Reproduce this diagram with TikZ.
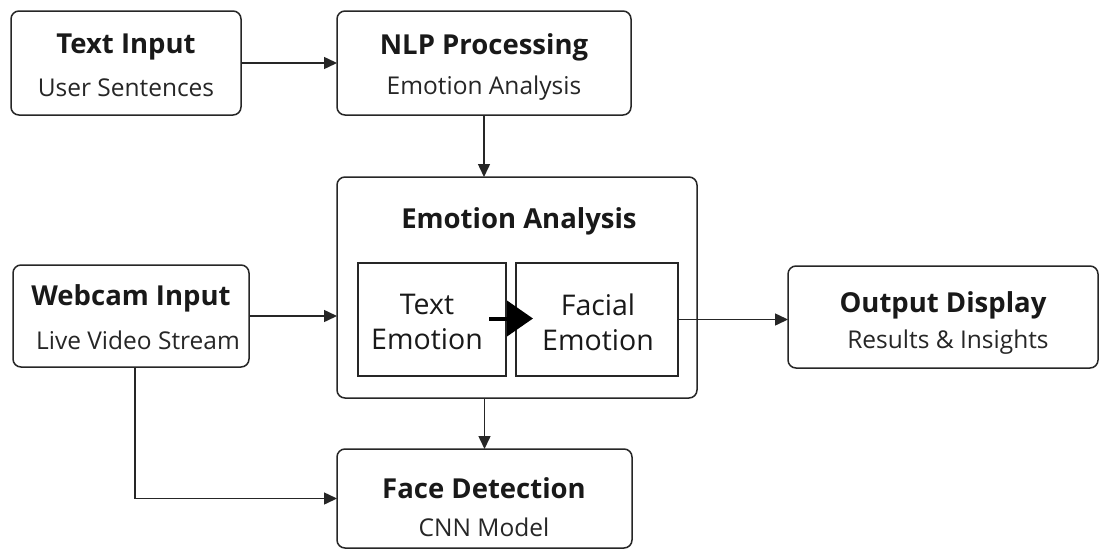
\documentclass[tikz,border=0pt]{standalone}
\usepackage{fontspec}
\setmainfont{Open Sans}
\usetikzlibrary{arrows.meta,calc}
\begin{document}
\begin{tikzpicture}[x=1pt,y=-1pt,
  every node/.style={inner sep=0pt,outer sep=0pt},
  box/.style={draw=black!85,line width=1.5pt,rounded corners=8pt,minimum width=#1},
  inbox/.style={draw=black!85,line width=1.5pt,minimum width=#1},
  head/.style={font=\fontsize{27.5}{32}\selectfont\bfseries,text=black!90},
  sub/.style={font=\fontsize{24.5}{28}\selectfont,text=black!85},
  inner/.style={font=\fontsize{28.5}{35}\selectfont,text=black!90,align=center},
  conn/.style={draw=black!85,line width=1.5pt,-{Triangle[length=13pt,width=12pt]}},
  bigarrow/.style={draw=black,line width=4pt,-{Triangle[length=26pt,width=35pt]}}
]
\useasboundingbox (0,0) rectangle (1110,549);
\fill[white] (0,0) rectangle (1110,549);
% boxes
\node[box=230pt,minimum height=104pt] (ti) at (126,63) {};
\node[box=294pt,minimum height=104pt] (nlp) at (484,63) {};
\node[box=360pt,minimum height=221pt] (emo) at (517,287.5) {};
\node[inbox=148pt,minimum height=113pt] (te) at (432,319.5) {};
\node[inbox=162pt,minimum height=113pt] (fe) at (597,319.5) {};
\node[box=310pt,minimum height=102pt] (out) at (943,317) {};
\node[box=236pt,minimum height=102pt] (web) at (131,316) {};
\node[box=295pt,minimum height=99pt] (face) at (484.5,498.5) {};
% texts
\node[head] (tiH) at (126,47) {Text Input};
\node[sub] (tiS) at (126,88) {User Sentences};
\node[head] (nlpH) at (484,47) {NLP Processing};
\node[sub] (nlpS) at (484,88) {Emotion Analysis};
\node[head] (emoH) at (519,221) {Emotion Analysis};
\node[inner] (teT) at (427,322) {Text\\Emotion};
\node[inner] (feT) at (598,322) {Facial\\Emotion};
\node[head] (outH) at (943,305) {Output Display};
\node[sub] (outS) at (948,342) {Results \& Insights};
\node[head] (webH) at (131,298) {Webcam Input};
\node[sub] (webS) at (138,340) {Live Video Stream};
\node[head] (faceH) at (484,488) {Face Detection};
\node[sub] (faceS) at (484,527) {CNN Model};
% connectors
\draw[conn] (ti.east) -- (nlp.west);
\draw[conn] (nlp.south) -- (nlp.south |- emo.north);
\draw[conn] (web.east) -- (web.east -| emo.west);
\draw[conn] (fe.east) -- (fe.east -| out.west);
\draw[conn] (emo.south -| face.north) -- (face.north);
\draw[conn] ([xshift=4pt]web.south) |- (face.west);
\draw[bigarrow] ([xshift=-17pt,yshift=1pt]te.east) -- ([xshift=17pt,yshift=1pt]fe.west);
\end{tikzpicture}
\end{document}
